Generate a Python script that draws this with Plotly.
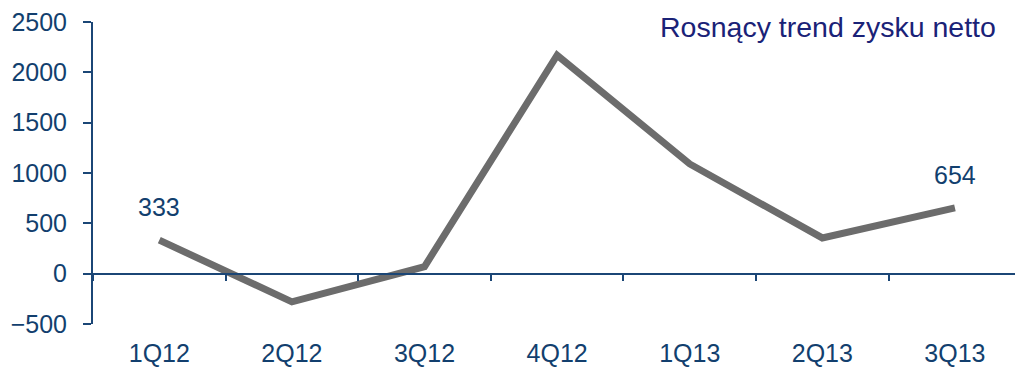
import plotly.graph_objects as go

categories = ["1Q12", "2Q12", "3Q12", "4Q12", "1Q13", "2Q13", "3Q13"]
values = [333, -280, 70, 2170, 1090, 355, 654]
labeled_idx = [0, 6]
y_ticks = [-500, 0, 500, 1000, 1500, 2000, 2500]
title_text = "Rosnący trend zysku netto"

NAVY = "#123f6e"
AXIS = "#1b4676"
TITLE_C = "#1a2277"
LINE_C = "#6c6c6c"
FONT = "Liberation Sans, Arial, sans-serif"

fig = go.Figure()
fig.add_trace(go.Scatter(
    x=categories, y=values, mode="lines",
    line=dict(color=LINE_C, width=7),
    hoverinfo="skip", showlegend=False,
))
# invisible trace to define categories on the zero-line axis
fig.add_trace(go.Scatter(
    x=categories, y=values, mode="lines", xaxis="x2",
    line=dict(color="rgba(0,0,0,0)", width=0),
    hoverinfo="skip", showlegend=False,
))

for i in labeled_idx:
    fig.add_annotation(
        x=categories[i], y=values[i], text=str(values[i]),
        showarrow=False, yshift=33, xanchor="center", yanchor="middle",
        font=dict(family=FONT, size=25, color=NAVY),
    )

fig.add_annotation(
    xref="paper", yref="paper", x=0.9816, y=0.985,
    text=title_text, showarrow=False, xanchor="right", yanchor="middle",
    font=dict(family=FONT, size=28.5, color=TITLE_C),
)

xrange = [-0.5, 6.453]
zero_pos = (0 - y_ticks[0]) / (y_ticks[-1] - y_ticks[0])

fig.update_layout(
    width=1015, height=368,
    margin=dict(l=93, r=0, t=22, b=44, autoexpand=False),
    paper_bgcolor="white", plot_bgcolor="white",
    font=dict(family=FONT, size=25, color=NAVY),
    xaxis=dict(
        type="category", categoryorder="array", categoryarray=categories,
        range=xrange, showline=False, showgrid=False, zeroline=False,
        ticks="", ticklabelstandoff=12, automargin=False,
        tickfont=dict(family=FONT, size=25, color=NAVY),
    ),
    xaxis2=dict(
        type="category", categoryorder="array", categoryarray=categories,
        range=xrange, overlaying="x", anchor="free", position=zero_pos,
        side="bottom", showline=True, linecolor=AXIS, linewidth=2,
        ticks="outside", tickson="boundaries", ticklen=6, tickwidth=2,
        tickcolor=AXIS, showticklabels=False, showgrid=False, zeroline=False,
        automargin=False,
    ),
    yaxis=dict(
        range=[y_ticks[0], y_ticks[-1]], tickvals=y_ticks,
        showline=True, linecolor=AXIS, linewidth=2,
        ticks="outside", ticklen=8, tickwidth=2, tickcolor=AXIS,
        showgrid=False, zeroline=False, ticklabelstandoff=11,
        automargin=False,
        tickfont=dict(family=FONT, size=25, color=NAVY),
    ),
)

fig.write_html("out.html")
